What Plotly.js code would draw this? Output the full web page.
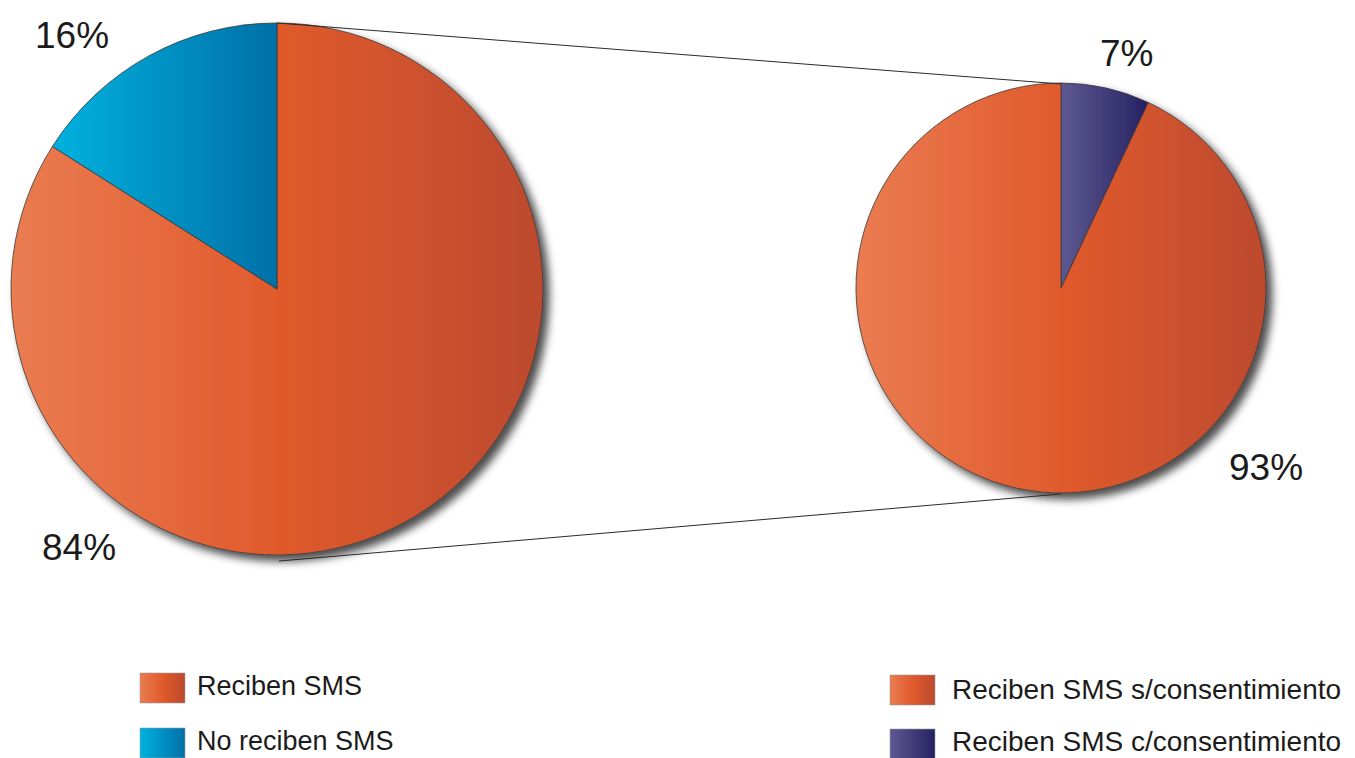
<!DOCTYPE html>
<html>
<head>
<meta charset="utf-8">
<script src="https://cdn.plot.ly/plotly-3.0.1.min.js"></script>
<style>
html,body{margin:0;padding:0;background:#fff;}
#chart{width:1355px;height:758px;}
</style>
</head>
<body>
<div id="chart"></div>
<script>
// ---- data ----
const leftLabels = ['Reciben SMS', 'No reciben SMS'];
const leftValues = [84, 16];
const rightLabels = ['Reciben SMS c/consentimiento', 'Reciben SMS s/consentimiento'];
const rightValues = [7, 93];
const leftLegendOrder = ['Reciben SMS', 'No reciben SMS'];
const rightLegendOrder = ['Reciben SMS s/consentimiento', 'Reciben SMS c/consentimiento'];

// ---- styles ----
const W = 1355, H = 758;
const ORANGE = '#E05A2E', BLUE = '#0090C8', PURPLE = '#453F7E';
const colorOf = {
  'No reciben SMS': BLUE, 'Reciben SMS': ORANGE,
  'Reciben SMS c/consentimiento': PURPLE, 'Reciben SMS s/consentimiento': ORANGE
};
const gradients = {
  orange: {base: ORANGE, stops: [['0%','#EA7C51'],['50%','#E05A2C'],['100%','#BC4A2E']]},
  blue:   {base: BLUE,   stops: [['0%','#00B2DE'],['100%','#0070A8']]},
  purple: {base: PURPLE, stops: [['0%','#5E5992'],['100%','#262161']]}
};
const px = x => x / W;
const py = y => 1 - y / H;
const FONT = 'Liberation Sans, Arial, sans-serif';
const TXT = '#1b1b1b';

const traces = [
  {
    type: 'pie', labels: leftLabels, values: leftValues, sort: false,
    direction: 'clockwise', rotation: 0,
    marker: {colors: leftLabels.map(l => colorOf[l]), line: {color: '#3a3a3a', width: 0.8}},
    textinfo: 'none', hoverinfo: 'label+percent', showlegend: false,
    domain: {x: [px(11), px(543)], y: [py(555), py(23)]}
  },
  {
    type: 'pie', labels: rightLabels, values: rightValues, sort: false,
    direction: 'clockwise', rotation: 0,
    marker: {colors: rightLabels.map(l => colorOf[l]), line: {color: '#3a3a3a', width: 0.8}},
    textinfo: 'none', hoverinfo: 'label+percent', showlegend: false,
    domain: {x: [px(856), px(1266)], y: [py(493), py(83)]}
  }
];

const shapes = [
  {type: 'line', xref: 'paper', yref: 'paper', x0: px(277), y0: py(23), x1: px(1061), y1: py(84), line: {color: '#2a2a2a', width: 1}},
  {type: 'line', xref: 'paper', yref: 'paper', x0: px(279), y0: py(561), x1: px(1061), y1: py(494), line: {color: '#2a2a2a', width: 1}}
];
const annotations = [];

// percent labels
const pctPos = {
  'No reciben SMS': [72, 35], 'Reciben SMS': [79, 547],
  'Reciben SMS c/consentimiento': [1126, 53], 'Reciben SMS s/consentimiento': [1266, 467]
};
function addPct(labels, values) {
  labels.forEach((l, i) => {
    annotations.push({xref: 'paper', yref: 'paper', x: px(pctPos[l][0]), y: py(pctPos[l][1]),
      text: values[i] + '%', showarrow: false, xanchor: 'center', yanchor: 'middle',
      font: {family: FONT, size: 37, color: TXT}});
  });
}
addPct(leftLabels, leftValues);
addPct(rightLabels, rightValues);

// custom legends
function addLegend(order, x0, ys, textYs, textX, fs) {
  order.forEach((l, i) => {
    shapes.push({type: 'rect', xref: 'paper', yref: 'paper', x0: px(x0), x1: px(x0 + 45),
      y0: py(ys[i]), y1: py(ys[i] + 30), fillcolor: colorOf[l], line: {color: '#9a9a9a', width: 0.6}});
    annotations.push({xref: 'paper', yref: 'paper', x: px(textX), y: py(textYs[i]),
      text: l, showarrow: false, xanchor: 'left', yanchor: 'middle',
      font: {family: FONT, size: fs, color: TXT}});
  });
}
addLegend(leftLegendOrder, 140, [673, 728], [686, 741], 195, 27);
addLegend(rightLegendOrder, 890, [675, 729], [689, 741], 950, 28);

const layout = {
  width: W, height: H, margin: {l: 0, r: 0, t: 0, b: 0},
  paper_bgcolor: '#fff', plot_bgcolor: '#fff',
  showlegend: false, shapes: shapes, annotations: annotations
};

function hexToRgb(h) {
  const n = parseInt(h.slice(1), 16);
  return 'rgb(' + ((n >> 16) & 255) + ', ' + ((n >> 8) & 255) + ', ' + (n & 255) + ')';
}

Plotly.newPlot('chart', traces, layout, {staticPlot: true}).then(gd => {
  const NS = 'http://www.w3.org/2000/svg';
  const svg = gd.querySelector('svg.main-svg');
  let defs = svg.querySelector('defs');
  if (!defs) { defs = document.createElementNS(NS, 'defs'); svg.insertBefore(defs, svg.firstChild); }
  const map = {};
  Object.keys(gradients).forEach(k => {
    const g = document.createElementNS(NS, 'linearGradient');
    g.setAttribute('id', 'grad-' + k);
    g.setAttribute('x1', '0'); g.setAttribute('y1', '0'); g.setAttribute('x2', '1'); g.setAttribute('y2', '0');
    gradients[k].stops.forEach(s => {
      const st = document.createElementNS(NS, 'stop');
      st.setAttribute('offset', s[0]); st.setAttribute('stop-color', s[1]);
      g.appendChild(st);
    });
    defs.appendChild(g);
    map[hexToRgb(gradients[k].base)] = 'url(#grad-' + k + ')';
  });
  const f = document.createElementNS(NS, 'filter');
  f.setAttribute('id', 'pie-shadow');
  f.setAttribute('x', '-10%'); f.setAttribute('y', '-10%');
  f.setAttribute('width', '130%'); f.setAttribute('height', '130%');
  const ds = document.createElementNS(NS, 'feDropShadow');
  ds.setAttribute('dx', '6'); ds.setAttribute('dy', '6'); ds.setAttribute('stdDeviation', '4');
  ds.setAttribute('flood-color', '#000'); ds.setAttribute('flood-opacity', '0.7');
  f.appendChild(ds);
  defs.appendChild(f);

  gd.querySelectorAll('path').forEach(p => {
    const fill = p.style.fill;
    if (fill && map[fill]) p.style.fill = map[fill];
  });
  gd.querySelectorAll('.pielayer .trace').forEach(t => t.setAttribute('filter', 'url(#pie-shadow)'));
});
</script>
</body>
</html>
